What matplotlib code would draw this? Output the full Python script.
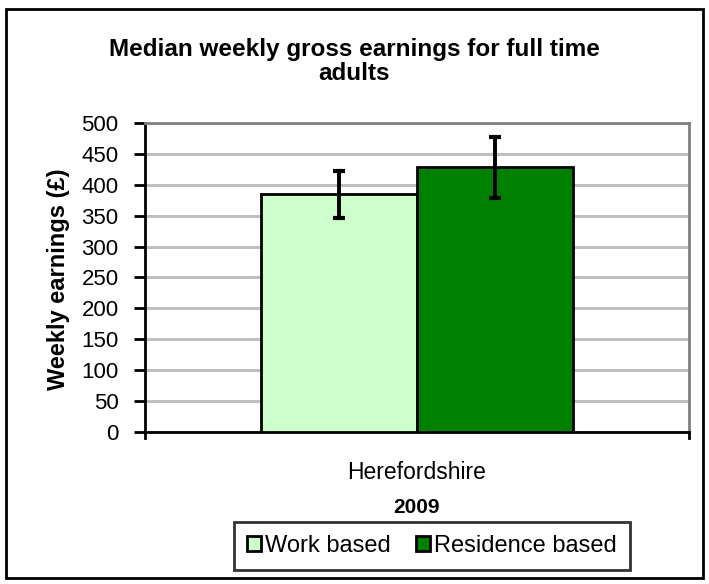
import matplotlib.pyplot as plt
from matplotlib.patches import Rectangle

plt.rcParams['font.family'] = ['Liberation Sans', 'DejaVu Sans']

# data
areas = ["Herefordshire"]
series = ["Work based", "Residence based"]
earnings = [385, 428]
errors = [38, 49]
colours = ["#ccffcc", "#008000"]

fig = plt.figure(figsize=(7.09, 5.84), dpi=100)
ax = fig.add_axes([0.2045, 0.2603, 0.7673, 0.5291])

width = 0.2875
for i, (name, val, err, col) in enumerate(zip(series, earnings, errors, colours)):
    xpos = (i - 0.5) * width
    ax.bar(xpos, val, width=width, color=col, edgecolor="black", linewidth=2,
           label=name, zorder=3)
    ax.errorbar(xpos, val, yerr=err, fmt="none", ecolor="black", elinewidth=2.8,
                capsize=4.5, capthick=3, zorder=4)

ax.set_xlim(-0.5, 0.5)
ax.set_ylim(0, 500)
ax.set_yticks(range(0, 501, 50))
ax.yaxis.grid(True, color="#c0c0c0", linewidth=2.2, zorder=0)
ax.set_axisbelow(True)

ax.set_xticks([0])
ax.set_xticklabels(areas, fontsize=16.5)
ax.tick_params(axis="x", length=0, pad=21)
ax.tick_params(axis="y", direction="out", length=8, width=2, labelsize=16, pad=11)

# x-axis end ticks
for xe in (-0.5, 0.5):
    ax.plot([xe, xe], [0, -10], color="black", linewidth=2, clip_on=False, zorder=5)

ax.spines["left"].set_linewidth(2)
ax.spines["bottom"].set_linewidth(2)
ax.spines["top"].set_color("#808080")
ax.spines["right"].set_color("#808080")
ax.spines["top"].set_linewidth(2)
ax.spines["right"].set_linewidth(2)

fig.text(58 / 709, 1 - 279 / 584, "Weekly earnings (£)", rotation=90, ha="center",
         va="center", fontsize=17, fontweight="bold")
ax.set_xlabel("2009", fontsize=15, fontweight="bold")
ax.xaxis.set_label_coords(0.5, -0.215)

fig.text(0.4993, 0.8947, "Median weekly gross earnings for full time\nadults",
         ha="center", va="center", fontsize=17.5, fontweight="bold", linespacing=1.05)

leg = ax.legend(loc="center", bbox_to_anchor=(0.609, 0.065), bbox_transform=fig.transFigure,
                ncol=2, fontsize=17, frameon=True, fancybox=False, handlelength=0.6,
                handleheight=0.6, handletextpad=0.15, columnspacing=1.1, borderpad=0.55,
                borderaxespad=0)
leg.get_frame().set_edgecolor("black")
leg.get_frame().set_linewidth(2)

fig.patches.append(Rectangle((0.008, 0.01), 0.984, 0.975, transform=fig.transFigure,
                             fill=False, edgecolor="black", linewidth=2))

fig.savefig("out.png", dpi=100)
